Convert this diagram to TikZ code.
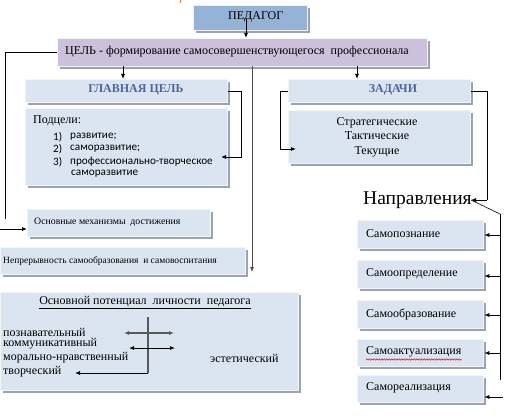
\documentclass[tikz,border=0pt]{standalone}
\usepackage{fontspec}
\setmainfont{Liberation Serif}
\newfontfamily\calib{Carlito}
\usetikzlibrary{arrows.meta,shadows,decorations.pathmorphing}
\definecolor{boxfill}{HTML}{DBE5F1}
\definecolor{edgec}{HTML}{F4F4F4}
\definecolor{shadc}{HTML}{9AA3AE}
\definecolor{pedfill}{HTML}{95B3D7}
\definecolor{celfill}{HTML}{CCC0DA}
\definecolor{headc}{HTML}{4A66A0}
\definecolor{tickc}{HTML}{E46C0A}
\tikzset{
  bx/.style={draw=edgec, line width=1.3pt, fill=boxfill, drop shadow={shadow xshift=2pt, shadow yshift=-2pt, fill=shadc, opacity=1}, anchor=north west, inner sep=0pt},
  tx/.style={inner sep=0pt, font=\fontsize{12}{14}\selectfont},
  sm/.style={inner sep=0pt, font=\fontsize{9.8}{12}\selectfont},
  it/.style={inner sep=0pt, font=\calib\fontsize{11.2}{12}\selectfont},
  hd/.style={inner sep=0pt, font=\bfseries\fontsize{12}{14}\selectfont, text=headc},
  arr/.style={-{Latex[length=5pt,width=4pt]}, line width=0.8pt},
  dbl/.style={{Latex[length=5pt,width=4pt]}-{Latex[length=5pt,width=4pt]}, line width=0.8pt},
  ln/.style={line width=0.8pt},
}
\begin{document}
\begin{tikzpicture}[x=1pt,y=-1pt]
\useasboundingbox (0,0) rectangle (505,417);
\fill[white] (0,0) rectangle (505,417);
\coordinate (tk1) at (181,0); \coordinate (tk2) at (180,3);
\draw[tickc, line width=0.8pt] (tk1) -- (tk2);

% top boxes
\node[bx, fill=pedfill, minimum width=114pt, minimum height=25pt] (ped) at (193,5) {};
\node[tx, anchor=west] (pedt) at (228,17) {ПЕДАГОГ};
\node[bx, fill=celfill, minimum width=370pt, minimum height=28pt] (cel) at (57,38) {};
\node[tx, anchor=west] (celt) at (65,52) {ЦЕЛЬ - формирование самосовершенствующегося\ \ профессионала};

% main goal
\node[bx, minimum width=202pt, minimum height=23pt] (glav) at (25,79) {};
\node[hd] (glavt) at (136,90) {ГЛАВНАЯ ЦЕЛЬ};
\node[bx, minimum width=202pt, minimum height=77pt] (podc) at (25,108) {};
\node[tx, anchor=west] (pct) at (33,121) {Подцели:};
\node[it, anchor=west] (n1) at (53,137) {1)};
\node[it, anchor=west] (t1) at (70,137) {развитие;};
\node[it, anchor=west] (n2) at (53,149) {2)};
\node[it, anchor=west] (t2) at (70,149) {саморазвитие;};
\node[it, anchor=west] (n3) at (53,162) {3)};
\node[it, anchor=west] (t3) at (70,162) {профессионально-творческое};
\node[it, anchor=west] (t4) at (71,174) {саморазвитие};

% tasks
\node[bx, minimum width=182pt, minimum height=23pt] (zad) at (288,79) {};
\node[hd] (zadt) at (393,90) {ЗАДАЧИ};
\node[bx, minimum width=182pt, minimum height=53pt] (zadc) at (288,110) {};
\node[tx, align=center, font=\fontsize{12}{14.5}\selectfont] (zadct) at (377,137) {Стратегические\\Тактические\\Текущие};

% left column
\node[bx, minimum width=183pt, minimum height=27pt] (mech) at (27,209) {};
\node[sm, anchor=west] (mecht) at (34,222) {Основные механизмы\ \ достижения};
\node[bx, minimum width=245pt, minimum height=27pt] (nepr) at (0,247) {};
\node[sm, anchor=west, font=\fontsize{9.5}{12}\selectfont] (neprt) at (3,261) {Непрерывность самообразования\ \ и самовоспитания};

% potential
\node[bx, minimum width=298pt, minimum height=98pt] (pot) at (0,292) {};
\node[tx] (pott) at (145,303) {\underline{Основной потенциал\ \ личности\ \ педагога}};
\node[tx, anchor=west] (p1) at (3,332) {познавательный};
\node[tx, anchor=west] (p2) at (3,344) {коммуникативный};
\node[tx, anchor=west] (p3) at (3,358) {морально-нравственный};
\node[tx, anchor=west] (p4) at (3,372) {творческий};
\node[tx, anchor=west] (p5) at (210,358) {эстетический};
\coordinate (v1) at (148,317); \coordinate (v2) at (148,373);
\draw[line width=1.2pt, black!65] (v1) -- (v2);
\coordinate (h1a) at (124,333); \coordinate (h1b) at (174,333);
\draw[dbl, black!65, line width=1.2pt] (h1a) -- (h1b);
\coordinate (h2a) at (129,348); \coordinate (h2b) at (175,348);
\draw[dbl] (h2a) -- (h2b);
\coordinate (h3) at (75,373);
\draw[arr] (v2) -- (h3);

% directions
\node[tx, anchor=west, font=\fontsize{19.5}{22}\selectfont] (napr) at (363,200) {Направления};
\node[bx, minimum width=126pt, minimum height=28pt] (d1) at (357,220) {};
\node[tx, anchor=west] (d1t) at (366,234) {Самопознание};
\node[bx, minimum width=126pt, minimum height=28pt] (d2) at (357,260) {};
\node[tx, anchor=west] (d2t) at (366,274) {Самоопределение};
\node[bx, minimum width=126pt, minimum height=28pt] (d3) at (357,300) {};
\node[tx, anchor=west] (d3t) at (366,314) {Самообразование};
\node[bx, minimum width=126pt, minimum height=27pt] (d4) at (357,339) {};
\node[tx, anchor=west] (d4t) at (366,352) {Самоактуализация};
\node[bx, minimum width=126pt, minimum height=27pt] (d5) at (357,375) {};
\node[tx, anchor=west] (d5t) at (366,388) {Самореализация};
\draw[red, line width=0.5pt, decorate, decoration={snake, amplitude=0.7pt, segment length=2.5pt}]
  ([yshift=-2pt]d4t.south west) -- ([yshift=-2pt]d4t.south east);

% connectors
\coordinate (pa) at (246,19);
\draw[arr] (pa) -- (pa |- cel.north);
\coordinate (ga) at (123,66);
\draw[arr] (ga) -- (ga |- glav.north);
\coordinate (za) at (357,66);
\draw[arr] (za) -- (za |- zad.north);
\coordinate (g1) at (252,66); \coordinate (g2) at (252,272);
\draw[arr, black!70] (g1) -- (g2);
\coordinate (l1) at (5,219);
\draw[ln] (cel.west) -| (l1);
\coordinate (l2) at (0,229);
\draw[arr] (l2) -- (l2 -| mech.west);
\coordinate (r1) at (221,157);
\draw[arr] (glav.east) -- ++(13,0) |- (r1);
\coordinate (r2) at (296,149);
\draw[arr] (zad.west) -- ++(-8,0) |- (r2);
\coordinate (r3) at (487,200); \coordinate (r4) at (471,200);
\draw[ln] (zad.east) -| (r3);
\draw[arr] (r3) -- (r4);
\coordinate (s1) at (500,214); \coordinate (s2) at (500,380);
\draw[line width=0.6pt] (r4) -- (s1);
\draw[ln] (s1) -- (s2);
\foreach \d/\yy in {d1/235, d2/276, d3/315, d4/353} {
  \coordinate (a\d) at (500,\yy);
  \draw[arr] (a\d) -- (a\d -| \d.east);
}
\coordinate (ad5) at (503,397);
\draw[arr] (ad5) -- (ad5 -| d5.east);
\end{tikzpicture}
\end{document}
